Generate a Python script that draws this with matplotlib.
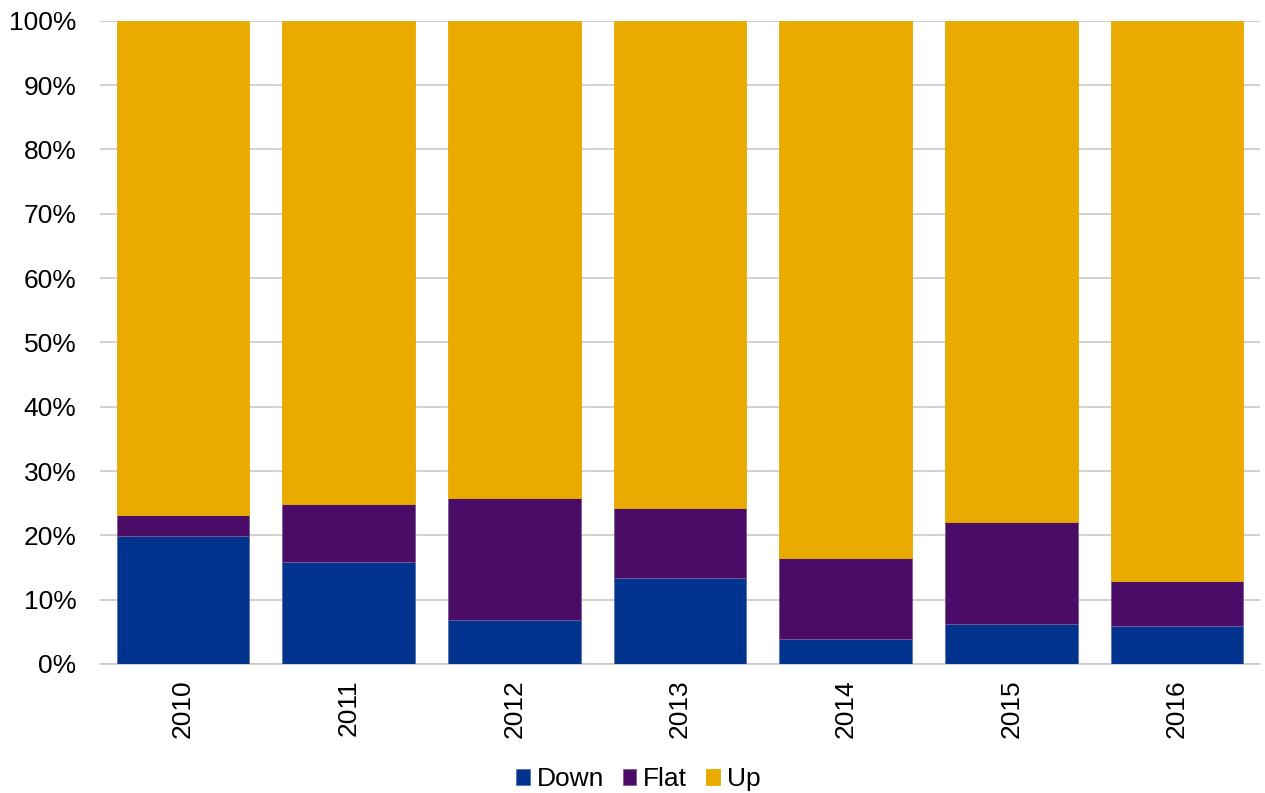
import matplotlib
matplotlib.use("Agg")
import matplotlib.pyplot as plt
import numpy as np

plt.rcParams["font.family"] = ["Liberation Sans", "DejaVu Sans"]

# Data (percent of total)
years = ["2010", "2011", "2012", "2013", "2014", "2015", "2016"]
down = [19.9, 15.9, 6.9, 13.4, 3.9, 6.2, 5.9]
flat = [3.3, 9.0, 18.9, 10.9, 12.6, 15.9, 7.0]
up = [100 - d - f for d, f in zip(down, flat)]

colors = {"Down": "#00338D", "Flat": "#4A0C66", "Up": "#EAAB00"}

fig = plt.figure(figsize=(12.65, 7.93), dpi=100)
ax = fig.add_axes([0.0792, 0.1627, 0.9168, 0.811])

x = np.arange(len(years))
w = 0.8
ax.bar(x, down, w, color=colors["Down"], label="Down", edgecolor="#5a6fae", linewidth=0.6, zorder=3)
ax.bar(x, flat, w, bottom=down, color=colors["Flat"], label="Flat", edgecolor="#7a5a95", linewidth=0.6, zorder=3)
ax.bar(x, up, w, bottom=np.array(down) + np.array(flat), color=colors["Up"], label="Up",
       edgecolor=colors["Up"], linewidth=0.6, zorder=3)

ax.set_xlim(-0.5, len(years) - 0.5)
ax.set_ylim(0, 100)
ax.set_yticks(np.arange(0, 101, 10))
ax.set_yticklabels([f"{v}%" for v in range(0, 101, 10)], fontsize=19)
ax.set_xticks(x)
ax.set_xticklabels(years, rotation=90, fontsize=19)
ax.tick_params(axis="y", length=0, pad=17)
ax.tick_params(axis="x", length=0, pad=11)
ax.yaxis.grid(True, color="#c8c8c8", linewidth=1.2, zorder=0)
for s in ["top", "right", "left"]:
    ax.spines[s].set_visible(False)
ax.spines["bottom"].set_color("#c8c8c8")
ax.spines["bottom"].set_linewidth(1.2)

# legend centred under the whole figure, not the plot area
ax.legend(loc="lower center", bbox_to_anchor=(0.464, -0.235), ncol=3, frameon=False,
          fontsize=19, handlelength=0.5, handleheight=0.5, handletextpad=0.27, columnspacing=0.72)

fig.savefig("out.png", dpi=100)
